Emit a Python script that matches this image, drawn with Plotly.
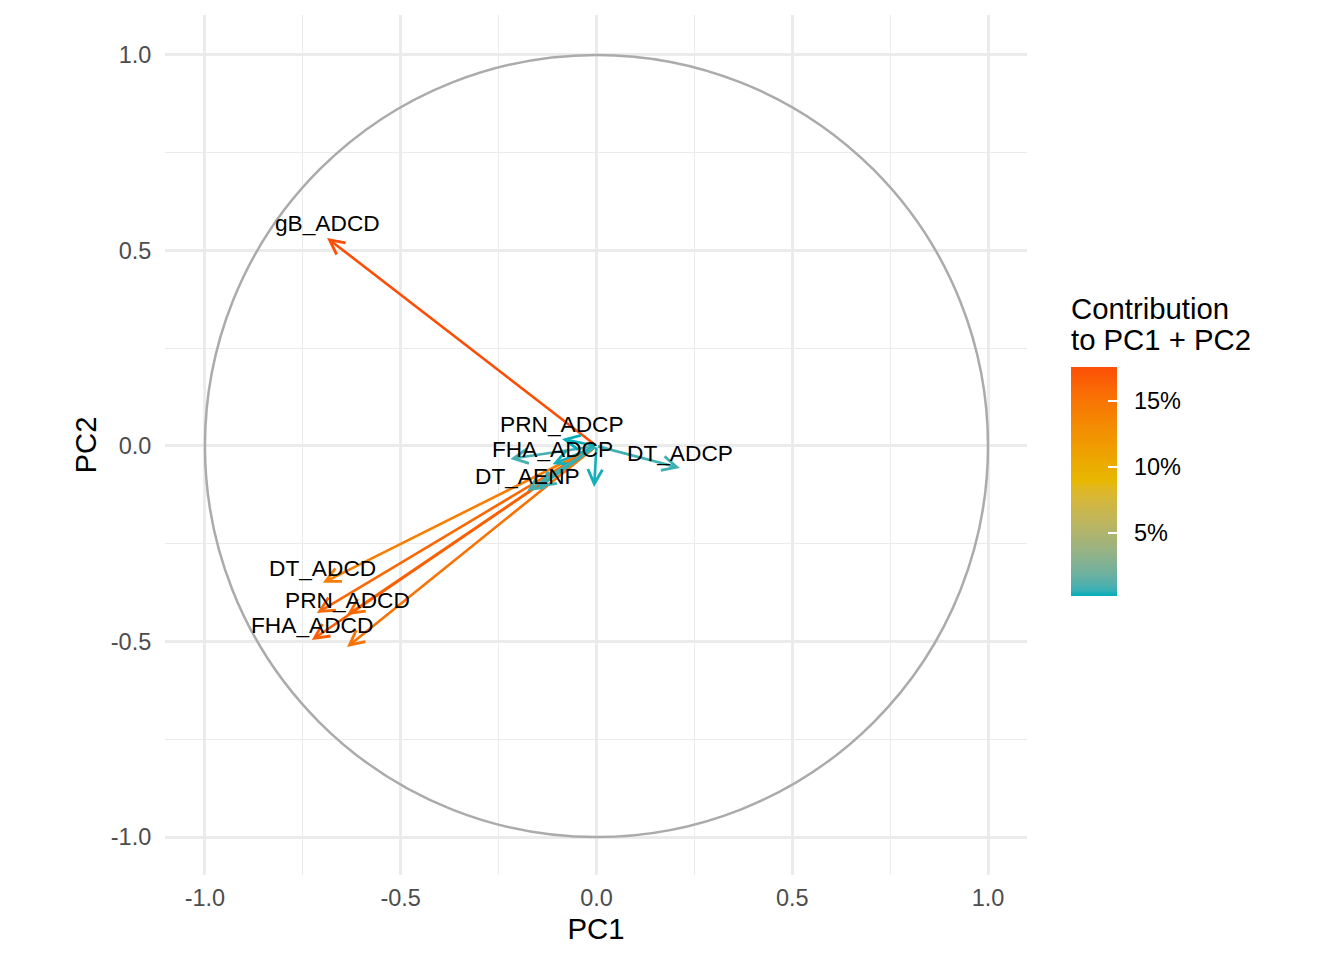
import plotly.graph_objects as go

# ---- data ----
variables = ["gB_ADCD", "DT_ADCD", "PRN_ADCD", "", "FHA_ADCD", "",
             "DT_ADCP", "", "FHA_ADCP", "PRN_ADCP", "DT_AENP", "", ""]
pc1 = [-0.688, -0.699, -0.637, -0.714, -0.727, -0.637,
       0.213, -0.220, -0.112, -0.088, -0.177, -0.149, -0.006]
pc2 = [0.532, -0.350, -0.432, -0.427, -0.496, -0.514,
       -0.056, -0.033, -0.047, 0.018, -0.115, -0.107, -0.105]
contrib = [17.58, 14.2, 15.4, 15.9, 16.5, 15.2,
           0.8, 0.9, 0.3, 0.23, 0.8, 0.6, 0.3]
cbar_ticks = [5, 10, 15]
cbar_labels = ["5%", "10%", "15%"]
axis_ticks = [-1.0, -0.5, 0.0, 0.5, 1.0]
axis_ticklabels = ["-1.0", "-0.5", "0.0", "0.5", "1.0"]
legend_title = ["Contribution", "to PC1 + PC2"]
gradient_colors = ["#00AFBB", "#E7B800", "#FC4E07"]


# ---- Lab-space gradient (as ggplot's scale_color_gradientn) ----
def _hex_to_rgb(h):
    h = h.lstrip("#")
    return [int(h[i:i + 2], 16) / 255 for i in (0, 2, 4)]


def _lin(c):
    return c / 12.92 if c <= 0.04045 else ((c + 0.055) / 1.055) ** 2.4


def _gam(c):
    c = max(0.0, min(1.0, c))
    return 12.92 * c if c <= 0.0031308 else 1.055 * c ** (1 / 2.4) - 0.055


WHITE = (0.95047, 1.0, 1.08883)


def _rgb_to_lab(rgb):
    r, g, b = (_lin(c) for c in rgb)
    X = 0.4124 * r + 0.3576 * g + 0.1805 * b
    Y = 0.2126 * r + 0.7152 * g + 0.0722 * b
    Z = 0.0193 * r + 0.1192 * g + 0.9505 * b

    def f(t):
        return t ** (1 / 3) if t > 0.008856 else 7.787 * t + 16 / 116
    fx, fy, fz = f(X / WHITE[0]), f(Y / WHITE[1]), f(Z / WHITE[2])
    return (116 * fy - 16, 500 * (fx - fy), 200 * (fy - fz))


def _lab_to_hex(lab):
    L, a, b = lab
    fy = (L + 16) / 116
    fx = fy + a / 500
    fz = fy - b / 200

    def finv(t):
        return t ** 3 if t ** 3 > 0.008856 else (t - 16 / 116) / 7.787
    X, Y, Z = finv(fx) * WHITE[0], finv(fy) * WHITE[1], finv(fz) * WHITE[2]
    r = 3.2406 * X - 1.5372 * Y - 0.4986 * Z
    g = -0.9689 * X + 1.8758 * Y + 0.0415 * Z
    bb = 0.0557 * X - 0.2040 * Y + 1.0570 * Z
    return "#%02X%02X%02X" % tuple(round(_gam(c) * 255) for c in (r, g, bb))


def lab_color(t):
    n = len(gradient_colors) - 1
    t = max(0.0, min(1.0, t))
    i = min(int(t * n), n - 1)
    f = t * n - i
    l1 = _rgb_to_lab(_hex_to_rgb(gradient_colors[i]))
    l2 = _rgb_to_lab(_hex_to_rgb(gradient_colors[i + 1]))
    return _lab_to_hex(tuple(a + (b - a) * f for a, b in zip(l1, l2)))


colorscale = [[k / 40, lab_color(k / 40)] for k in range(41)]
cmin, cmax = min(contrib), max(contrib)
arrow_colors = [lab_color((c - cmin) / (cmax - cmin)) for c in contrib]

FONT = "Liberation Sans, Arial, Helvetica, sans-serif"
TICK = 23.5
TITLE = 29.3

fig = go.Figure()

# invisible markers only to carry the colour bar
fig.add_trace(go.Scatter(
    x=pc1, y=pc2, mode="markers", hoverinfo="skip", showlegend=False,
    marker=dict(color=contrib, colorscale=colorscale, cmin=cmin, cmax=cmax,
                size=1, opacity=0,
                showscale=True,
                colorbar=dict(
                    tickvals=cbar_ticks, ticktext=["\u2002" + t for t in cbar_labels],
                    tickfont=dict(size=TICK, color="black", family=FONT),
                    ticks="inside", tickcolor="white", ticklen=9, tickwidth=1.5,
                    thickness=46, len=229, lenmode="pixels",
                    x=1.051, xanchor="left", xref="paper", xpad=0, ypad=0,
                    y=0.4576, yanchor="middle",
                    outlinewidth=0,
                ))))

# correlation circle
fig.add_shape(type="circle", xref="x", yref="y", x0=-1, y0=-1, x1=1, y1=1,
              line=dict(color="#ABABAB", width=2.5), layer="above")

annotations = []
for x, y, col in zip(pc1, pc2, arrow_colors):
    annotations.append(dict(
        x=x, y=y, ax=0, ay=0, xref="x", yref="y", axref="x", ayref="y",
        text="", showarrow=True, arrowhead=5, arrowsize=1.1, arrowwidth=2.6,
        arrowcolor=col))
for x, y, name in zip(pc1, pc2, variables):
    if name:
        annotations.append(dict(
            x=x, y=y, xref="x", yref="y", text=name, showarrow=False,
            yshift=15, font=dict(size=22.7, color="black", family=FONT)))
for i, line in enumerate(legend_title):
    annotations.append(dict(
        x=1.049, y=0.6593 - 0.0372 * i, xref="paper", yref="paper",
        xanchor="left", yanchor="middle", text=line, showarrow=False,
        font=dict(size=TITLE, color="black", family=FONT)))

fig.update_layout(
    width=1344, height=960,
    paper_bgcolor="white", plot_bgcolor="white",
    margin=dict(l=157, r=325, t=7, b=93),
    font=dict(family=FONT),
    annotations=annotations,
    showlegend=False,
    xaxis=dict(range=[-1.102, 1.0996], tickvals=axis_ticks, ticktext=axis_ticklabels,
               showgrid=True, gridcolor="#EBEBEB", gridwidth=2.7, zeroline=False,
               minor=dict(dtick=0.25, tick0=0, showgrid=True, gridcolor="#EBEBEB", gridwidth=1.35),
               ticks="outside", ticklen=2, tickcolor="rgba(0,0,0,0)",
               tickfont=dict(size=TICK, color="#4D4D4D", family=FONT),
               title=dict(text="PC1", font=dict(size=TITLE, color="black", family=FONT), standoff=8),
               showline=False),
    yaxis=dict(range=[-1.097, 1.102], tickvals=axis_ticks, ticktext=axis_ticklabels,
               showgrid=True, gridcolor="#EBEBEB", gridwidth=2.7, zeroline=False,
               minor=dict(dtick=0.25, tick0=0, showgrid=True, gridcolor="#EBEBEB", gridwidth=1.35),
               ticks="outside", ticklen=8, tickcolor="rgba(0,0,0,0)",
               tickfont=dict(size=TICK, color="#4D4D4D", family=FONT),
               title=dict(text="PC2", font=dict(size=TITLE, color="black", family=FONT), standoff=5),
               showline=False),
)

fig.write_html("out.html")
